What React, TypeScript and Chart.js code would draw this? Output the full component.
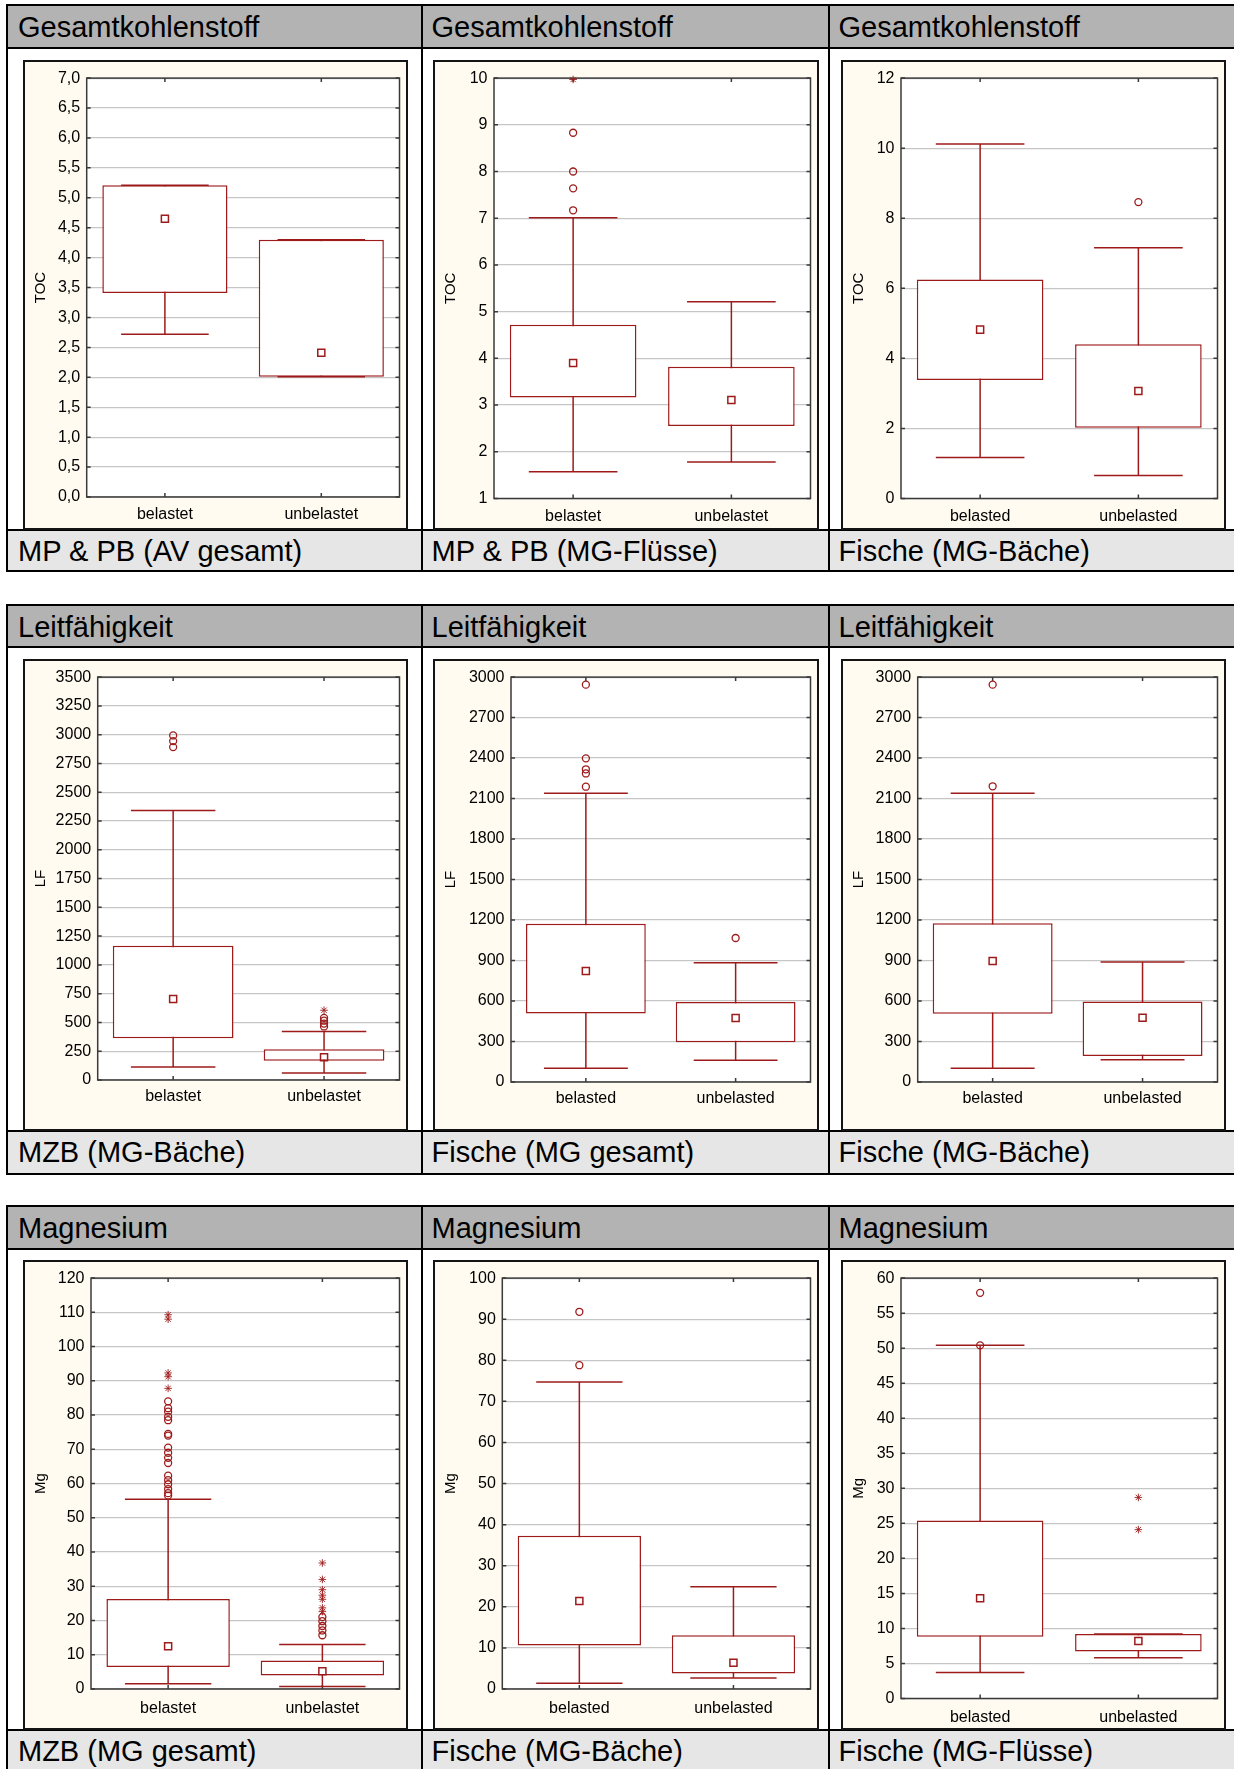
import React, { useEffect, useRef } from 'react';
import { Chart, registerables } from 'chart.js';

Chart.register(...registerables);

const FONT = "'Liberation Sans', Arial, Helvetica, sans-serif";
const RED = '#9e1b1b';

// ---------------- DATA ----------------
// Gesamtkohlenstoff – MP & PB (AV gesamt)
const tocAvCategories = ['belastet', 'unbelastet'];
const tocAvQ1 = [3.41, 2.01];
const tocAvQ3 = [5.21, 4.3];
const tocAvMin = [2.72, 2.01];
const tocAvMax = [5.21, 4.3];
const tocAvMean = [4.65, 2.41];
const tocAvOutliers: number[][] = [[], []];
const tocAvExtremes: number[][] = [[], []];
const tocAvAxis = [0, 7, 0.5];

// Gesamtkohlenstoff – MP & PB (MG-Flüsse)
const tocMgfCategories = ['belastet', 'unbelastet'];
const tocMgfQ1 = [3.16, 2.55];
const tocMgfQ3 = [4.72, 3.82];
const tocMgfMin = [1.57, 1.78];
const tocMgfMax = [7.01, 5.21];
const tocMgfMean = [3.9, 3.11];
const tocMgfOutliers = [[8.83, 8.0, 7.64, 7.17], []];
const tocMgfExtremes = [[9.97], []];
const tocMgfAxis = [1, 10, 1];

// Gesamtkohlenstoff – Fische (MG-Bäche)
const tocFmbCategories = ['belasted', 'unbelasted'];
const tocFmbQ1 = [3.38, 2.02];
const tocFmbQ3 = [6.25, 4.4];
const tocFmbMin = [1.17, 0.66];
const tocFmbMax = [10.12, 7.16];
const tocFmbMean = [4.82, 3.07];
const tocFmbOutliers = [[], [8.46]];
const tocFmbExtremes: number[][] = [[], []];
const tocFmbAxis = [0, 12, 2];

// Leitfähigkeit – MZB (MG-Bäche)
const lfMzbCategories = ['belastet', 'unbelastet'];
const lfMzbQ1 = [363, 167];
const lfMzbQ3 = [1166, 268];
const lfMzbMin = [112, 60];
const lfMzbMax = [2342, 421];
const lfMzbMean = [704, 197];
const lfMzbOutliers = [[2993, 2944, 2892], [465, 490, 515, 540]];
const lfMzbExtremes = [[], [606]];
const lfMzbAxis = [0, 3500, 250];

// Leitfähigkeit – Fische (MG gesamt)
const lfFmgCategories = ['belasted', 'unbelasted'];
const lfFmgQ1 = [508, 295];
const lfFmgQ3 = [1173, 593];
const lfFmgMin = [102, 161];
const lfFmgMax = [2139, 884];
const lfFmgMean = [822, 474];
const lfFmgOutliers = [[2944, 2398, 2317, 2286, 2188], [1067]];
const lfFmgExtremes: number[][] = [[], []];
const lfFmgAxis = [0, 3000, 300];

// Leitfähigkeit – Fische (MG-Bäche)
const lfFmbCategories = ['belasted', 'unbelasted'];
const lfFmbQ1 = [505, 193];
const lfFmbQ3 = [1176, 596];
const lfFmbMin = [102, 164];
const lfFmbMax = [2139, 889];
const lfFmbMean = [896, 476];
const lfFmbOutliers = [[2944, 2191], []];
const lfFmbExtremes: number[][] = [[], []];
const lfFmbAxis = [0, 3000, 300];

// Magnesium – MZB (MG gesamt)
const mgMzbCategories = ['belastet', 'unbelastet'];
const mgMzbQ1 = [6.4, 3.95];
const mgMzbQ3 = [26.3, 8.3];
const mgMzbMin = [1.5, 0.75];
const mgMzbMax = [55.4, 13.0];
const mgMzbMean = [12.5, 5.2];
const mgMzbOutliers = [
  [84, 82, 81, 79.5, 78.5, 74.5, 74, 70.5, 69, 67.5, 66, 62.3, 61, 59.8, 58.4, 57.2, 56.5],
  [21.0, 19.8, 18.4, 17.1, 15.7],
];
const mgMzbExtremes = [
  [109.3, 108.0, 92.3, 91.2, 87.8],
  [36.8, 32.0, 29.0, 27.4, 26.2, 23.7, 22.6],
];
const mgMzbAxis = [0, 120, 10];

// Magnesium – Fische (MG-Bäche)
const mgFmbCategories = ['belasted', 'unbelasted'];
const mgFmbQ1 = [10.6, 3.8];
const mgFmbQ3 = [37.3, 13.1];
const mgFmbMin = [1.4, 2.7];
const mgFmbMax = [74.7, 24.9];
const mgFmbMean = [21.4, 6.4];
const mgFmbOutliers = [[91.8, 78.8], []];
const mgFmbExtremes: number[][] = [[], []];
const mgFmbAxis = [0, 100, 10];

// Magnesium – Fische (MG-Flüsse)
const mgFmfCategories = ['belasted', 'unbelasted'];
const mgFmfQ1 = [8.8, 6.7];
const mgFmfQ3 = [25.4, 9.2];
const mgFmfMin = [3.7, 5.8];
const mgFmfMax = [50.4, 9.2];
const mgFmfMean = [14.3, 8.2];
const mgFmfOutliers = [[57.9, 50.4], []];
const mgFmfExtremes = [[], [28.7, 24.1]];
const mgFmfAxis = [0, 60, 5];

const headers = ['Gesamtkohlenstoff', 'Leitfähigkeit', 'Magnesium'];
const footers = [
  ['MP & PB (AV gesamt)', 'MP & PB (MG-Flüsse)', 'Fische (MG-Bäche)'],
  ['MZB (MG-Bäche)', 'Fische (MG gesamt)', 'Fische (MG-Bäche)'],
  ['MZB (MG gesamt)', 'Fische (MG-Bäche)', 'Fische (MG-Flüsse)'],
];
const yTitles = ['TOC', 'LF', 'Mg'];

type Spec = {
  yTitle: string;
  decimals: number;
  categories: string[];
  q1: number[];
  q3: number[];
  min: number[];
  max: number[];
  mean: number[];
  outliers: number[][];
  extremes: number[][];
  axis: number[];
};

const specs: Spec[] = [
  { yTitle: yTitles[0], decimals: 1, categories: tocAvCategories, q1: tocAvQ1, q3: tocAvQ3, min: tocAvMin, max: tocAvMax, mean: tocAvMean, outliers: tocAvOutliers, extremes: tocAvExtremes, axis: tocAvAxis },
  { yTitle: yTitles[0], decimals: 0, categories: tocMgfCategories, q1: tocMgfQ1, q3: tocMgfQ3, min: tocMgfMin, max: tocMgfMax, mean: tocMgfMean, outliers: tocMgfOutliers, extremes: tocMgfExtremes, axis: tocMgfAxis },
  { yTitle: yTitles[0], decimals: 0, categories: tocFmbCategories, q1: tocFmbQ1, q3: tocFmbQ3, min: tocFmbMin, max: tocFmbMax, mean: tocFmbMean, outliers: tocFmbOutliers, extremes: tocFmbExtremes, axis: tocFmbAxis },
  { yTitle: yTitles[1], decimals: 0, categories: lfMzbCategories, q1: lfMzbQ1, q3: lfMzbQ3, min: lfMzbMin, max: lfMzbMax, mean: lfMzbMean, outliers: lfMzbOutliers, extremes: lfMzbExtremes, axis: lfMzbAxis },
  { yTitle: yTitles[1], decimals: 0, categories: lfFmgCategories, q1: lfFmgQ1, q3: lfFmgQ3, min: lfFmgMin, max: lfFmgMax, mean: lfFmgMean, outliers: lfFmgOutliers, extremes: lfFmgExtremes, axis: lfFmgAxis },
  { yTitle: yTitles[1], decimals: 0, categories: lfFmbCategories, q1: lfFmbQ1, q3: lfFmbQ3, min: lfFmbMin, max: lfFmbMax, mean: lfFmbMean, outliers: lfFmbOutliers, extremes: lfFmbExtremes, axis: lfFmbAxis },
  { yTitle: yTitles[2], decimals: 0, categories: mgMzbCategories, q1: mgMzbQ1, q3: mgMzbQ3, min: mgMzbMin, max: mgMzbMax, mean: mgMzbMean, outliers: mgMzbOutliers, extremes: mgMzbExtremes, axis: mgMzbAxis },
  { yTitle: yTitles[2], decimals: 0, categories: mgFmbCategories, q1: mgFmbQ1, q3: mgFmbQ3, min: mgFmbMin, max: mgFmbMax, mean: mgFmbMean, outliers: mgFmbOutliers, extremes: mgFmbExtremes, axis: mgFmbAxis },
  { yTitle: yTitles[2], decimals: 0, categories: mgFmfCategories, q1: mgFmfQ1, q3: mgFmfQ3, min: mgFmfMin, max: mgFmfMax, mean: mgFmfMean, outliers: mgFmfOutliers, extremes: mgFmfExtremes, axis: mgFmfAxis },
];

// ---------------- LAYOUT ----------------
const PANEL_X = [23, 433, 841];
const PANEL_W = [385, 386, 385];
const TEXT_X = [18, 431.5, 838.5];
const DIVIDER_X = [6, 420.7, 828];
const BLOCKS = [
  { top: 5, headBottom: 47.5, panelTop: 60, panelBottom: 530, footBottom: 571, labelPad: 8 },
  { top: 605, headBottom: 647, panelTop: 659, panelBottom: 1131, footBottom: 1174, labelPad: 7 },
  { top: 1206, headBottom: 1249, panelTop: 1260, panelBottom: 1730, footBottom: 1772, labelPad: 9.5 },
];
// plot areas in page px: left, right, top, bottom
const PLOT_AREAS = [
  [86.7, 403, 75, 497],
  [494, 812, 75, 498.5],
  [901, 1219, 75, 498.5],
  [97.7, 401, 675, 1080],
  [511, 814.3, 677, 1082],
  [917.7, 1221, 677, 1082],
  [91, 403.3, 1276, 1689],
  [502.3, 814.3, 1276, 1689],
  [901, 1219, 1276, 1698.5],
];

type Geo = { px: number; py: number; pw: number; ph: number; l: number; r: number; t: number; b: number; labelPad: number };

function BoxPanel({ spec, geo }: { spec: Spec; geo: Geo }) {
  const ref = useRef<HTMLCanvasElement | null>(null);
  const cw = geo.pw - 4;
  const ch = geo.ph - 4;
  useEffect(() => {
    const canvas = ref.current;
    if (!canvas) return;
    const cx0 = geo.px + 2;
    const cy0 = geo.py + 2;
    const yw = geo.l - cx0;
    const xh = cy0 + ch - geo.b;
    const padTop = geo.t - cy0;
    const padRight = cx0 + cw - geo.r;

    const outlierPts: { x: string; y: number }[] = [];
    spec.outliers.forEach((arr, i) => arr.forEach((v) => outlierPts.push({ x: spec.categories[i], y: v })));
    const extremePts: { x: string; y: number }[] = [];
    spec.extremes.forEach((arr, i) => arr.forEach((v) => extremePts.push({ x: spec.categories[i], y: v })));

    const plugin = {
      id: 'boxExtras',
      beforeDraw(chart: any) {
        const { ctx, chartArea: a } = chart;
        ctx.save();
        ctx.fillStyle = '#ffffff';
        ctx.fillRect(a.left, a.top, a.right - a.left, a.bottom - a.top);
        ctx.restore();
      },
      beforeDatasetsDraw(chart: any) {
        const { ctx, chartArea: a } = chart;
        const x = chart.scales.x;
        const y = chart.scales.y;
        ctx.save();
        // frame
        ctx.strokeStyle = '#3a3a3a';
        ctx.lineWidth = 1.5;
        ctx.strokeRect(a.left, a.top, a.right - a.left, a.bottom - a.top);
        // inner tick marks
        ctx.beginPath();
        y.ticks.forEach((t: any) => {
          const py = y.getPixelForValue(t.value);
          ctx.moveTo(a.left, py);
          ctx.lineTo(a.left + 4, py);
          ctx.moveTo(a.right - 4, py);
          ctx.lineTo(a.right, py);
        });
        spec.categories.forEach((_c, i) => {
          const px = x.getPixelForValue(i);
          ctx.moveTo(px, a.top);
          ctx.lineTo(px, a.top + 4);
          ctx.moveTo(px, a.bottom - 4);
          ctx.lineTo(px, a.bottom);
        });
        ctx.stroke();
        // whiskers
        const catW = x.width / spec.categories.length;
        const half = catW * 0.28;
        ctx.strokeStyle = RED;
        ctx.lineWidth = 1.5;
        ctx.beginPath();
        spec.categories.forEach((_c, i) => {
          const cx = x.getPixelForValue(i);
          const yLo = y.getPixelForValue(spec.min[i]);
          const yHi = y.getPixelForValue(spec.max[i]);
          ctx.moveTo(cx, yLo);
          ctx.lineTo(cx, yHi);
          ctx.moveTo(cx - half, yLo);
          ctx.lineTo(cx + half, yLo);
          ctx.moveTo(cx - half, yHi);
          ctx.lineTo(cx + half, yHi);
        });
        ctx.stroke();
        ctx.restore();
      },
    };

    const tickFont = { family: FONT, size: 16 };
    const chart = new Chart(canvas, {
      type: 'bar',
      data: {
        labels: spec.categories,
        datasets: [
          {
            type: 'bar',
            data: spec.q1.map((v, i) => [v, spec.q3[i]]) as any,
            backgroundColor: '#ffffff',
            borderColor: RED,
            borderWidth: 1.5,
            borderSkipped: false,
            barPercentage: 1,
            categoryPercentage: 0.8,
            order: 3,
          } as any,
          {
            type: 'line',
            data: spec.mean as any,
            showLine: false,
            pointStyle: 'rect',
            pointRadius: 5,
            pointBorderWidth: 1.5,
            pointBorderColor: RED,
            pointBackgroundColor: 'rgba(255,255,255,0)',
            order: 1,
          } as any,
          {
            type: 'line',
            data: outlierPts as any,
            showLine: false,
            pointStyle: 'circle',
            pointRadius: 3.5,
            pointBorderWidth: 1.3,
            pointBorderColor: RED,
            pointBackgroundColor: 'rgba(255,255,255,0)',
            clip: false,
            order: 1,
          } as any,
          {
            type: 'line',
            data: extremePts as any,
            showLine: false,
            pointStyle: 'star',
            pointRadius: 3.8,
            pointBorderWidth: 0.9,
            pointBorderColor: RED,
            pointBackgroundColor: RED,
            clip: false,
            order: 1,
          } as any,
        ],
      },
      options: {
        responsive: false,
        animation: false,
        devicePixelRatio: 1,
        layout: { padding: { top: padTop, right: padRight, left: 0, bottom: 0 } },
        plugins: { legend: { display: false }, tooltip: { enabled: false } },
        events: [],
        scales: {
          x: {
            type: 'category',
            grid: { display: false, drawTicks: false },
            border: { display: false },
            ticks: { font: tickFont, color: '#000', padding: geo.labelPad, maxRotation: 0, autoSkip: false },
            afterFit: (s: any) => {
              s.height = xh;
            },
          },
          y: {
            type: 'linear',
            min: spec.axis[0],
            max: spec.axis[1],
            grid: { color: '#c6c6c6', lineWidth: 1.2, drawTicks: false },
            border: { display: false },
            ticks: {
              stepSize: spec.axis[2],
              autoSkip: false,
              font: tickFont,
              color: '#000',
              padding: 6.5,
              callback: (v: any) =>
                spec.decimals > 0 ? Number(v).toFixed(spec.decimals).replace('.', ',') : String(Math.round(Number(v))),
            },
            title: {
              display: true,
              text: spec.yTitle,
              color: '#000',
              font: { family: FONT, size: 15 },
              padding: { top: 7, bottom: 0 },
            },
            afterFit: (s: any) => {
              s.width = yw;
            },
          },
        },
      } as any,
      plugins: [plugin as any],
    });
    return () => chart.destroy();
  }, []);
  return (
    <div
      style={{
        position: 'absolute',
        left: geo.px,
        top: geo.py,
        width: geo.pw,
        height: geo.ph,
        border: '2px solid #141414',
        background: '#fffbf0',
        boxSizing: 'border-box',
      }}
    >
      <canvas ref={ref} width={cw} height={ch} style={{ display: 'block' }} />
    </div>
  );
}

export default function App() {
  const els: React.ReactNode[] = [];
  BLOCKS.forEach((bl, bi) => {
    // header row
    els.push(
      <div
        key={`h${bi}`}
        style={{
          position: 'absolute',
          left: 6,
          top: bl.top - 1,
          width: 1300,
          height: bl.headBottom + 1 - (bl.top - 1),
          background: '#b3b3b3',
          borderTop: '2px solid #000',
          borderBottom: '2px solid #000',
          boxSizing: 'border-box',
        }}
      />
    );
    // footer row
    els.push(
      <div
        key={`f${bi}`}
        style={{
          position: 'absolute',
          left: 6,
          top: bl.panelBottom - 1,
          width: 1300,
          height: bl.footBottom + 1 - (bl.panelBottom - 1),
          background: '#e6e6e6',
          borderTop: '2px solid #000',
          borderBottom: '2px solid #000',
          boxSizing: 'border-box',
        }}
      />
    );
    DIVIDER_X.forEach((dx, di) => {
      els.push(
        <div
          key={`d${bi}-${di}`}
          style={{
            position: 'absolute',
            left: dx,
            top: bl.top - 1,
            width: 2,
            height: bl.footBottom + 1 - (bl.top - 1),
            background: '#000',
          }}
        />
      );
    });
    [0, 1, 2].forEach((ci) => {
      const idx = bi * 3 + ci;
      const pa = PLOT_AREAS[idx];
      const geo: Geo = {
        px: PANEL_X[ci],
        py: bl.panelTop,
        pw: PANEL_W[ci],
        ph: bl.panelBottom - bl.panelTop,
        l: pa[0],
        r: pa[1],
        t: pa[2],
        b: pa[3],
        labelPad: bl.labelPad,
      };
      els.push(
        <div
          key={`ht${idx}`}
          style={{
            position: 'absolute',
            left: TEXT_X[ci],
            top: bl.top + 7.8,
            font: `29px ${FONT}`,
            lineHeight: '29px',
            color: '#000',
            whiteSpace: 'nowrap',
          }}
        >
          {headers[bi]}
        </div>
      );
      els.push(
        <div
          key={`ft${idx}`}
          style={{
            position: 'absolute',
            left: TEXT_X[ci],
            top: bl.panelBottom + 7,
            font: `29px ${FONT}`,
            lineHeight: '29px',
            color: '#000',
            whiteSpace: 'nowrap',
          }}
        >
          {footers[bi][ci]}
        </div>
      );
      els.push(<BoxPanel key={`p${idx}`} spec={specs[idx]} geo={geo} />);
    });
  });
  return (
    <div
      style={{
        position: 'absolute',
        left: 0,
        top: 0,
        width: 1234,
        height: 1769,
        overflow: 'hidden',
        background: '#fff',
      }}
    >
      {els}
    </div>
  );
}
